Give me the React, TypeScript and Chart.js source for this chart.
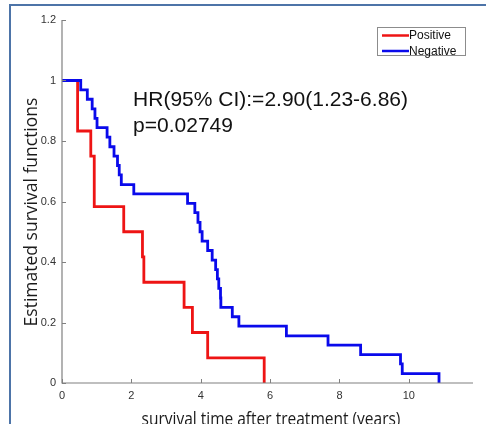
import React, { useEffect, useRef } from "react";
import { Chart, registerables } from "chart.js";

Chart.register(...registerables);

const seriesLabels = ["Positive", "Negative"];
const seriesColors = ["rgb(238,20,20)", "rgb(10,10,235)"];

const positiveTimes = [0, 0.45, 0.83, 0.93, 1.78, 2.32, 2.36, 3.52, 3.76, 4.2, 5.83];
const positiveSurvival = [1, 0.833, 0.75, 0.583, 0.5, 0.417, 0.333, 0.25, 0.167, 0.083, 0];

const negativeTimes = [
  0, 0.54, 0.73, 0.87, 0.95, 1.01, 1.3, 1.38, 1.5, 1.6, 1.65, 1.71, 2.07,
  3.62, 3.83, 3.92, 3.98, 4.04, 4.2, 4.33, 4.43, 4.48, 4.52, 4.57, 4.58,
  4.91, 5.1, 6.47, 7.67, 8.61, 9.76, 9.81, 10.87,
];
const negativeSurvival = [
  1, 0.969, 0.938, 0.906, 0.875, 0.844, 0.813, 0.781, 0.75, 0.719, 0.688, 0.656, 0.625,
  0.594, 0.563, 0.531, 0.5, 0.469, 0.438, 0.406, 0.375, 0.344, 0.313, 0.281, 0.25,
  0.219, 0.188, 0.156, 0.125, 0.094, 0.063, 0.031, 0,
];

const xTicks = [0, 2, 4, 6, 8, 10];
const yTicks = [0, 0.2, 0.4, 0.6, 0.8, 1, 1.2];
const xMax = 11.85;
const yMax = 1.2;

const xTitle = "survival time after treatment (years)";
const yTitle = "Estimated survival functions";
const statLines = ["HR(95% CI):=2.90(1.23-6.86)", "p=0.02749"];
const statPosition = { x: 2.05, y: 0.915 };

const decorPlugin = {
  id: "decor",
  afterDraw(chart: any) {
    const ctx = chart.ctx;
    const area = chart.chartArea;
    const xs = chart.scales.x;
    const ys = chart.scales.y;
    ctx.save();
    // axes lines
    ctx.strokeStyle = "#808080";
    ctx.lineWidth = 1.2;
    ctx.beginPath();
    ctx.moveTo(area.left, area.top);
    ctx.lineTo(area.left, area.bottom);
    ctx.lineTo(area.right, area.bottom);
    ctx.stroke();
    // inward ticks
    ctx.lineWidth = 1;
    ctx.beginPath();
    xs.ticks.forEach((t: any) => {
      const px = Math.round(xs.getPixelForValue(t.value)) + 0.5;
      ctx.moveTo(px, area.bottom);
      ctx.lineTo(px, area.bottom - 4);
    });
    ys.ticks.forEach((t: any) => {
      const py = Math.round(ys.getPixelForValue(t.value)) + 0.5;
      ctx.moveTo(area.left, py);
      ctx.lineTo(area.left + 4, py);
    });
    ctx.stroke();

    // axis titles
    ctx.fillStyle = "#1a1a1a";
    ctx.textBaseline = "alphabetic";
    ctx.textAlign = "center";
    ctx.save();
    ctx.font = "15.5px 'Open Sans', sans-serif";
    ctx.translate((area.left + area.right) / 2 + 3.5, chart.height + 1);
    ctx.scale(1, 1.15);
    ctx.fillText(xTitle, 0, 0);
    ctx.restore();
    ctx.save();
    ctx.font = "17.5px 'Open Sans', sans-serif";
    ctx.translate(37, (area.top + area.bottom) / 2 + 10.5);
    ctx.rotate(-Math.PI / 2);
    ctx.fillText(yTitle, 0, 0);
    ctx.restore();

    // stats text
    ctx.fillStyle = "#111";
    ctx.font = "21px 'Liberation Sans', Arial, sans-serif";
    ctx.textBaseline = "alphabetic";
    ctx.textAlign = "left";
    const sx = xs.getPixelForValue(statPosition.x);
    const sy = ys.getPixelForValue(statPosition.y);
    statLines.forEach((line, i) => ctx.fillText(line, sx, sy + i * 25.5));

    // legend box
    const bw = 88;
    const bh = 28;
    const bx = area.right - 8 - bw;
    const by = area.top + 7;
    ctx.fillStyle = "#fff";
    ctx.fillRect(bx, by, bw, bh);
    ctx.strokeStyle = "#8c8c8c";
    ctx.lineWidth = 1;
    ctx.strokeRect(bx + 0.5, by + 0.5, bw, bh);
    ctx.font = "12px 'Liberation Sans', Arial, sans-serif";
    ctx.textBaseline = "middle";
    chart.data.datasets.forEach((ds: any, i: number) => {
      const ly = by + 8.5 + i * 15.5;
      ctx.strokeStyle = ds.borderColor;
      ctx.lineWidth = 2.5;
      ctx.beginPath();
      ctx.moveTo(bx + 5, ly);
      ctx.lineTo(bx + 32, ly);
      ctx.stroke();
      ctx.fillStyle = "#111";
      ctx.fillText(ds.label, bx + 32, ly + 0.5);
    });
    ctx.restore();
  },
};

export default function App() {
  const canvasRef = useRef<HTMLCanvasElement | null>(null);

  useEffect(() => {
    if (!canvasRef.current) return;
    const chart = new Chart(canvasRef.current, {
      type: "line",
      data: {
        datasets: [
          {
            label: seriesLabels[0],
            data: positiveTimes.map((t, i) => ({ x: t, y: positiveSurvival[i] })),
            borderColor: seriesColors[0],
            borderWidth: 2.8,
            stepped: "before",
            pointRadius: 0,
            fill: false,
            order: 1,
          },
          {
            label: seriesLabels[1],
            data: negativeTimes.map((t, i) => ({ x: t, y: negativeSurvival[i] })),
            borderColor: seriesColors[1],
            borderWidth: 2.8,
            stepped: "before",
            pointRadius: 0,
            fill: false,
            order: 0,
          },
        ],
      },
      options: {
        responsive: false,
        animation: false,
        devicePixelRatio: 1,
        layout: { padding: { left: 0, top: 20, right: 13, bottom: 0 } },
        plugins: { legend: { display: false }, tooltip: { enabled: false } },
        scales: {
          x: {
            type: "linear",
            min: 0,
            max: xMax,
            afterBuildTicks: (s: any) => {
              s.ticks = xTicks.map((v) => ({ value: v }));
            },
            afterFit: (s: any) => {
              s.height = 41;
            },
            grid: { display: false, drawTicks: false },
            border: { display: false },
            ticks: {
              padding: 6,
              color: "#333",
              font: { family: "'Liberation Sans', Arial, sans-serif", size: 11 },
              callback: (v: any) => String(v),
              maxRotation: 0,
            },
            title: { display: false },
          },
          y: {
            type: "linear",
            min: 0,
            max: yMax,
            afterBuildTicks: (s: any) => {
              s.ticks = yTicks.map((v) => ({ value: v }));
            },
            afterFit: (s: any) => {
              s.width = 62;
            },
            grid: { display: false, drawTicks: false },
            border: { display: false },
            ticks: {
              padding: 6,
              color: "#333",
              font: { family: "'Liberation Sans', Arial, sans-serif", size: 11 },
              callback: (v: any) => String(Math.round(v * 10) / 10),
            },
            title: { display: false },
          },
        },
      },
      plugins: [decorPlugin],
    });
    return () => chart.destroy();
  }, []);

  return (
    <div
      style={{
        position: "fixed",
        left: 0,
        top: 0,
        width: 486,
        height: 424,
        overflow: "hidden",
        background: "#fff",
      }}
    >
      <div
        style={{
          position: "absolute",
          left: 9,
          top: 4,
          width: 600,
          height: 600,
          border: "2px solid #4d74a8",
          boxSizing: "border-box",
        }}
      />
      <canvas
        ref={canvasRef}
        width={486}
        height={424}
        style={{ position: "absolute", left: 0, top: 0, width: 486, height: 424 }}
      />
    </div>
  );
}
